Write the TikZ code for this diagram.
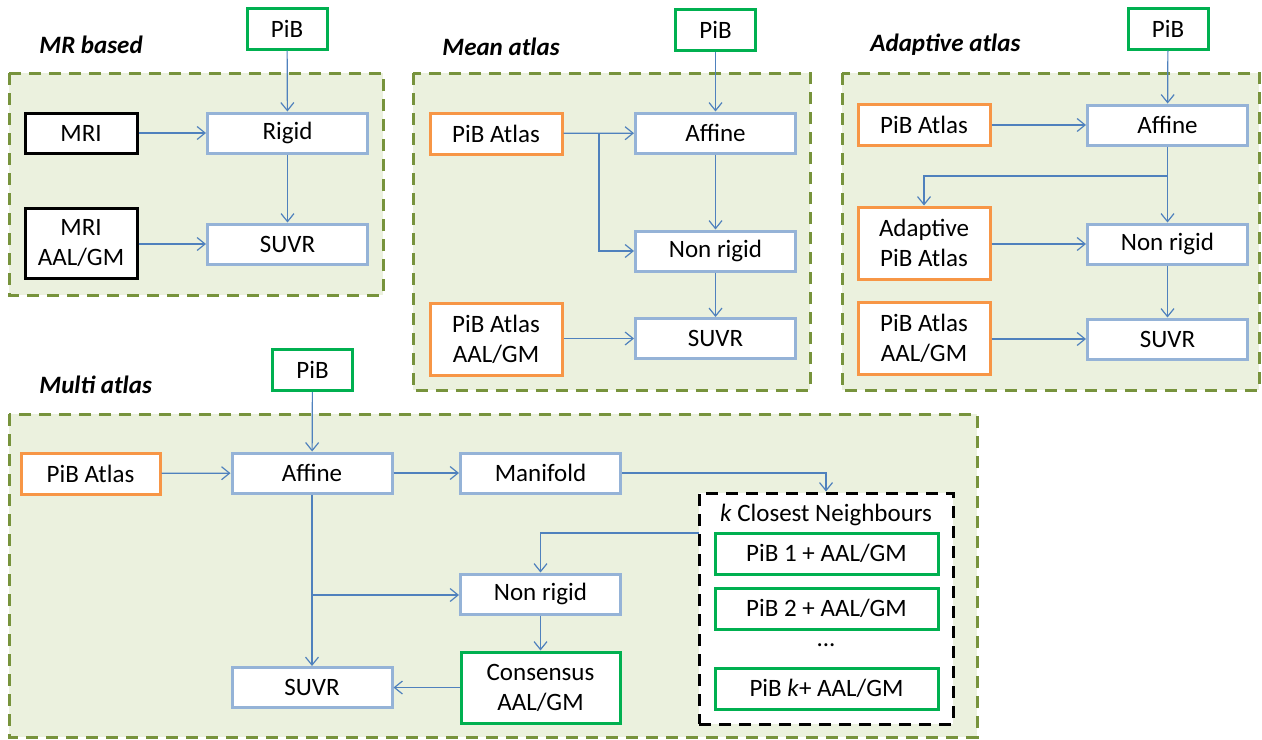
\documentclass[tikz,border=0pt]{standalone}
\usepackage{fontspec}
\setmainfont{Carlito}
\usepackage{xcolor}
\usetikzlibrary{arrows.meta,positioning,calc}

\definecolor{boxblue}{HTML}{95B3D7}
\definecolor{lineblue}{HTML}{4F81BD}
\definecolor{pibgreen}{HTML}{00B050}
\definecolor{atlasorange}{HTML}{F79646}
\definecolor{panelfill}{HTML}{EBF1DE}
\definecolor{panelline}{HTML}{77933C}

\begin{document}
\begin{tikzpicture}[x=0.5pt, y=-0.5pt,
    every node/.style={font=\fontsize{12.5}{15}\selectfont, inner sep=1pt},
    >={Straight Barb[length=4pt,width=6.5pt]},
    stepbox/.style={rectangle,draw=boxblue,line width=1.5pt,fill=white,minimum width=80pt,minimum height=20pt,align=center},
    pibbox/.style={rectangle,draw=pibgreen,line width=1.5pt,fill=white,minimum width=40pt,minimum height=20.5pt,align=center},
    atlasbox/.style={rectangle,draw=atlasorange,line width=1.5pt,fill=white,minimum width=66pt,minimum height=20.5pt,align=center},
    mribox/.style={rectangle,draw=black,line width=1.5pt,fill=white,minimum width=56pt,minimum height=20pt,align=center},
    panel/.style={draw=panelline,fill=panelfill,line width=1.5pt,dash pattern=on 6pt off 4pt},
    title/.style={anchor=west,font=\fontsize{12.5}{15}\selectfont\bfseries\itshape},
    link/.style={->,draw=lineblue,line width=0.6pt}]
    \useasboundingbox (0,0) rectangle (1262,739);

    % Panels
    \draw[panel] (9,73) rectangle (383,295);
    \draw[panel] (413,73) rectangle (810,390);
    \draw[panel] (842,73) rectangle (1259,390);
    \draw[panel] (9,414) rectangle (977,737);

    % MR based
    \node[title] (t1) at (37,45) {MR based};
    \node[pibbox] (pib1) at (287,28.5) {PiB};
    \node[stepbox] (rigid1) at (287.5,133) {Rigid};
    \node[stepbox] (suvr1) at (287.5,244) {SUVR};
    \node[mribox] (mri1) at (81,133) {MRI};
    \node[mribox,minimum height=35pt] (mriaal1) at (81,243.5) {MRI\\AAL/GM};

    \draw[link] (pib1) -- (rigid1);
    \draw[link] (mri1) -- (rigid1);
    \draw[link] (rigid1) -- (suvr1);
    \draw[link] (mriaal1.east |- suvr1) -- (suvr1);

    % Mean atlas
    \node[title] (t2) at (440,47) {Mean atlas};
    \node[pibbox] (pib2) at (715.5,29.5) {PiB};
    \node[stepbox] (affine2) at (715.5,133) {Affine};
    \node[atlasbox] (atlas2) at (496,133.5) {PiB Atlas};
    \node[stepbox] (nonrigid2) at (715.5,251) {Non rigid};
    \node[stepbox] (suvr2) at (715.5,338.5) {SUVR};
    \node[atlasbox,minimum height=36pt] (atlasaal2) at (496,339) {PiB Atlas\\AAL/GM};
    \coordinate (split2) at (599,133.5);

    \draw[link] (pib2) -- (affine2);
    \draw[link] (atlas2) -- (affine2);
    \draw[link] (atlas2.east) -- (split2) |- (nonrigid2.west);
    \draw[link] (affine2) -- (nonrigid2);
    \draw[link] (nonrigid2) -- (suvr2);
    \draw[link] (atlasaal2.east |- suvr2) -- (suvr2);

    % Adaptive atlas
    \node[title] (t3) at (868,45) {Adaptive atlas};
    \node[pibbox] (pib3) at (1168,28.5) {PiB};
    \node[stepbox] (affine3) at (1167.5,125) {Affine};
    \node[atlasbox] (atlas3) at (924,125) {PiB Atlas};
    \node[atlasbox,minimum height=36pt] (adapt3) at (924,243) {Adaptive\\PiB Atlas};
    \node[stepbox] (nonrigid3) at (1167.5,244) {Non rigid};
    \node[atlasbox,minimum height=36pt] (atlasaal3) at (924,338) {PiB Atlas\\AAL/GM};
    \node[stepbox] (suvr3) at (1167.5,339) {SUVR};
    \coordinate (split3) at (1167.5,176);

    \draw[link] (pib3) -- (affine3);
    \draw[link] (atlas3) -- (affine3);
    \draw[link] (affine3) -- (nonrigid3);
    \draw[link] (split3) -| (adapt3.north);
    \draw[link] (adapt3.east |- nonrigid3) -- (nonrigid3);
    \draw[link] (nonrigid3) -- (suvr3);
    \draw[link] (atlasaal3.east |- suvr3) -- (suvr3);

    % Multi atlas
    \node[title] (t4) at (37,385) {Multi atlas};
    \node[pibbox] (pib4) at (312.5,370) {PiB};
    \node[atlasbox,minimum width=69.5pt] (atlas4) at (90.5,473.5) {PiB Atlas};
    \node[stepbox] (affine4) at (312,473) {Affine};
    \node[stepbox] (manifold4) at (540.5,473) {Manifold};
    \node[rectangle,draw=black,fill=white,line width=1.5pt,dash pattern=on 6pt off 4pt,
          minimum width=127pt,minimum height=115.5pt] (knn) at (826,608.5) {};
    \node (knntitle) at (826,515) {\textit{k} Closest Neighbours};
    \node[pibbox,minimum width=111.5pt] (nb1) at (826.5,553.5) {PiB 1 + AAL/GM};
    \node[pibbox,minimum width=111.5pt] (nb2) at (826.5,608.5) {PiB 2 + AAL/GM};
    \node (dots) at (826,645) {...};
    \node[pibbox,minimum width=111.5pt] (nbk) at (826.5,688.5) {PiB \textit{k}+ AAL/GM};
    \node[stepbox] (nonrigid4) at (540.5,594) {Non rigid};
    \node[pibbox,minimum width=79.5pt,minimum height=35.5pt] (consensus4) at (540.5,687.5) {Consensus\\AAL/GM};
    \node[stepbox] (suvr4) at (312,687.5) {SUVR};
    \coordinate (knnout) at (699,533);
    \coordinate (split4) at (312,595);

    \draw[link] (pib4) -- (affine4);
    \draw[link] (atlas4) -- (affine4);
    \draw[link] (affine4) -- (manifold4);
    \draw[link] (manifold4.east) -| (knn.north);
    \draw[link] (knnout) -| (nonrigid4.north);
    \draw[link] (affine4) -- (suvr4);
    \draw[link] (split4) -- (nonrigid4.west |- split4);
    \draw[link] (nonrigid4) -- (consensus4);
    \draw[link] (consensus4) -- (suvr4);
\end{tikzpicture}
\end{document}
